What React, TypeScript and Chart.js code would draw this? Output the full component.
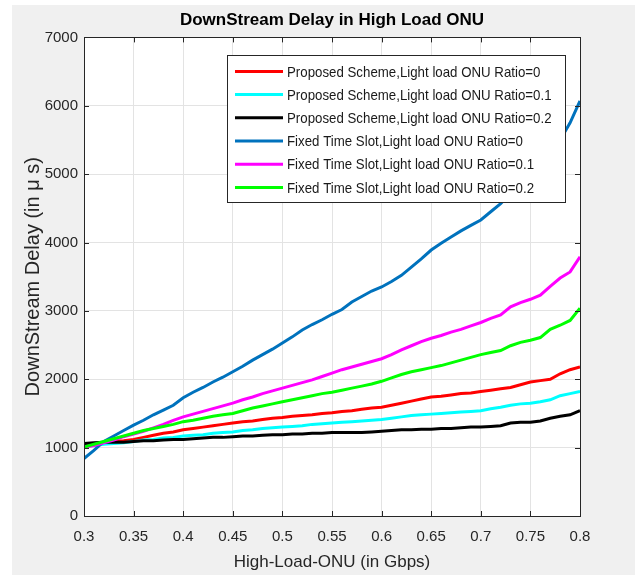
import React, { useEffect, useRef } from "react";
import { Chart, registerables } from "chart.js";

Chart.register(...registerables);

const FONT = "'Liberation Sans', Arial, Helvetica, sans-serif";

const titleText = "DownStream Delay in High Load ONU";
const xTitle = "High-Load-ONU (in Gbps)";
const yTitle = "DownStream Delay (in \u03bc s)";

const xTickValues = [0.3, 0.35, 0.4, 0.45, 0.5, 0.55, 0.6, 0.65, 0.7, 0.75, 0.8];
const yTickValues = [0, 1000, 2000, 3000, 4000, 5000, 6000, 7000];

const loads = [
  0.30, 0.31, 0.32, 0.33, 0.34, 0.35, 0.36, 0.37, 0.38, 0.39,
  0.40, 0.41, 0.42, 0.43, 0.44, 0.45, 0.46, 0.47, 0.48, 0.49,
  0.50, 0.51, 0.52, 0.53, 0.54, 0.55, 0.56, 0.57, 0.58, 0.59,
  0.60, 0.61, 0.62, 0.63, 0.64, 0.65, 0.66, 0.67, 0.68, 0.69,
  0.70, 0.71, 0.72, 0.73, 0.74, 0.75, 0.76, 0.77, 0.78, 0.79,
  0.80,
];

const proposedRatio0 = [
  1040, 1050, 1070, 1090, 1100, 1120, 1150, 1180, 1210, 1230,
  1260, 1280, 1300, 1320, 1340, 1360, 1380, 1390, 1410, 1430,
  1440, 1460, 1470, 1480, 1500, 1510, 1530, 1540, 1560, 1580,
  1590, 1620, 1650, 1680, 1710, 1740, 1750, 1770, 1790, 1800,
  1820, 1840, 1860, 1880, 1920, 1960, 1980, 2000, 2080, 2140,
  2180,
];

const proposedRatio01 = [
  1020, 1030, 1050, 1060, 1070, 1090, 1110, 1120, 1140, 1150,
  1170, 1180, 1190, 1210, 1220, 1230, 1250, 1260, 1280, 1290,
  1300, 1310, 1320, 1340, 1350, 1360, 1370, 1380, 1390, 1400,
  1410, 1430, 1450, 1470, 1480, 1490, 1500, 1510, 1520, 1530,
  1540, 1570, 1590, 1620, 1640, 1650, 1670, 1700, 1760, 1790,
  1820,
];

const proposedRatio02 = [
  1060, 1070, 1080, 1080, 1080, 1090, 1100, 1100, 1110, 1120,
  1120, 1130, 1140, 1150, 1150, 1160, 1170, 1170, 1180, 1190,
  1190, 1200, 1200, 1210, 1210, 1220, 1220, 1220, 1220, 1230,
  1240, 1250, 1260, 1260, 1270, 1270, 1280, 1280, 1290, 1300,
  1300, 1310, 1320, 1360, 1370, 1370, 1390, 1430, 1460, 1480,
  1540,
];

const fixedRatio0 = [
  840, 960, 1090, 1170, 1250, 1330, 1400, 1480, 1550, 1620,
  1730, 1810, 1880, 1960, 2030, 2110, 2190, 2280, 2360, 2440,
  2530, 2620, 2720, 2800, 2870, 2950, 3020, 3130, 3210, 3290,
  3350, 3430, 3520, 3640, 3760, 3890, 3990, 4080, 4170, 4250,
  4330, 4450, 4570, 4720, 4870, 5020, 5180, 5340, 5500, 5750,
  6070,
];

const fixedRatio01 = [
  1000, 1030, 1070, 1110, 1160, 1200, 1240, 1290, 1340, 1400,
  1450, 1490, 1530, 1570, 1610, 1650, 1700, 1740, 1790, 1830,
  1870, 1910, 1950, 1990, 2040, 2090, 2140, 2180, 2220, 2260,
  2300, 2360, 2430, 2490, 2550, 2600, 2640, 2690, 2730, 2780,
  2830, 2890, 2940, 3060, 3120, 3170, 3230, 3360, 3480, 3570,
  3790,
];

const fixedRatio02 = [
  1010, 1050, 1090, 1130, 1170, 1210, 1250, 1280, 1310, 1340,
  1380, 1400, 1430, 1460, 1480, 1500, 1540, 1580, 1610, 1640,
  1670, 1700, 1730, 1760, 1790, 1810, 1840, 1870, 1900, 1930,
  1970, 2020, 2070, 2110, 2140, 2170, 2200, 2240, 2280, 2320,
  2360, 2390, 2420, 2490, 2540, 2570, 2610, 2730, 2790, 2860,
  3040,
];

const seriesLabels = [
  "Proposed Scheme,Light load ONU Ratio=0",
  "Proposed Scheme,Light load ONU Ratio=0.1",
  "Proposed Scheme,Light load ONU Ratio=0.2",
  "Fixed Time Slot,Light load ONU Ratio=0",
  "Fixed Time Slot,Light load ONU Ratio=0.1",
  "Fixed Time Slot,Light load ONU Ratio=0.2",
];
const seriesValues = [
  proposedRatio0,
  proposedRatio01,
  proposedRatio02,
  fixedRatio0,
  fixedRatio01,
  fixedRatio02,
];
const seriesColors = ["#ff0000", "#00ffff", "#000000", "#0072bd", "#ff00ff", "#00ff00"];

const AXIS_COLOR = "#262626";

const backgroundPlugin = {
  id: "figureBackground",
  beforeDraw(chart: any) {
    const { ctx, width, height, chartArea } = chart;
    ctx.save();
    ctx.fillStyle = "#ffffff";
    ctx.fillRect(0, 0, width, height);
    ctx.fillStyle = "#f0f0f0";
    ctx.fillRect(12, 5, width - 12, height - 5);
    ctx.fillStyle = "#ffffff";
    ctx.fillRect(chartArea.left, chartArea.top, chartArea.right - chartArea.left, chartArea.bottom - chartArea.top);
    ctx.restore();
  },
};

const boxLegendPlugin = {
  id: "boxAndLegend",
  afterDatasetsDraw(chart: any) {
    const { ctx, chartArea, scales } = chart;
    const { left, right, top, bottom } = chartArea;
    ctx.save();
    // axes box
    ctx.strokeStyle = AXIS_COLOR;
    ctx.lineWidth = 1;
    ctx.strokeRect(Math.round(left) + 0.5, Math.round(top) + 0.5, Math.round(right - left), Math.round(bottom - top));
    // inner tick marks
    const tl = 5;
    ctx.beginPath();
    xTickValues.forEach((v) => {
      const x = Math.round(scales.x.getPixelForValue(v)) + 0.5;
      ctx.moveTo(x, bottom);
      ctx.lineTo(x, bottom - tl);
      ctx.moveTo(x, top);
      ctx.lineTo(x, top + tl);
    });
    yTickValues.forEach((v) => {
      const y = Math.round(scales.y.getPixelForValue(v)) + 0.5;
      ctx.moveTo(left, y);
      ctx.lineTo(left + tl, y);
      ctx.moveTo(right, y);
      ctx.lineTo(right - tl, y);
    });
    ctx.stroke();

    // legend box
    const bx = right - 353;
    const by = top + 18;
    const bw = 338;
    const rowH = 23.2;
    const bh = 147;
    ctx.fillStyle = "#ffffff";
    ctx.fillRect(bx, by, bw, bh);
    ctx.strokeStyle = AXIS_COLOR;
    ctx.strokeRect(Math.round(bx) + 0.5, Math.round(by) + 0.5, bw, bh);
    ctx.font = `15px ${FONT}`;
    ctx.textBaseline = "middle";
    ctx.textAlign = "left";
    chart.data.datasets.forEach((ds: any, i: number) => {
      const y = by + 16 + i * rowH;
      ctx.strokeStyle = ds.borderColor;
      ctx.lineWidth = 3;
      ctx.beginPath();
      ctx.moveTo(bx + 8, y);
      ctx.lineTo(bx + 56, y);
      ctx.stroke();
      ctx.fillStyle = "#1a1a1a";
      const w = ctx.measureText(ds.label).width;
      ctx.fillText(ds.label, bx + 60, y + 1, w * 0.885);
    });
    ctx.restore();
  },
};

export default function App() {
  const canvasRef = useRef<HTMLCanvasElement | null>(null);

  useEffect(() => {
    document.body.style.margin = "0";
    const canvas = canvasRef.current;
    if (!canvas) return;
    const datasets = seriesLabels.map((label, i) => ({
      label,
      data: loads.map((x, j) => ({ x, y: seriesValues[i][j] })),
      borderColor: seriesColors[i],
      backgroundColor: seriesColors[i],
      borderWidth: 3,
      pointRadius: 0,
      tension: 0,
      fill: false,
      order: seriesLabels.length - i,
    }));
    const chart = new Chart(canvas, {
      type: "line",
      data: { datasets },
      options: {
        responsive: false,
        animation: false,
        devicePixelRatio: 1,
        layout: { padding: { left: 0, right: 55, top: 0, bottom: 0 } },
        plugins: {
          legend: { display: false },
          tooltip: { enabled: false },
          title: {
            display: true,
            text: titleText,
            fullSize: false,
            color: "#000000",
            font: { family: FONT, size: 17, weight: "bold" },
            padding: { top: 10, bottom: 7 },
          },
        },
        scales: {
          x: {
            type: "linear",
            min: 0.3,
            max: 0.8,
            afterBuildTicks: (scale: any) => {
              scale.ticks = xTickValues.map((v) => ({ value: v }));
            },
            afterFit: (scale: any) => {
              scale.height = 59;
            },
            ticks: {
              color: AXIS_COLOR,
              font: { family: FONT, size: 15 },
              padding: 12,
              maxRotation: 0,
              autoSkip: false,
              callback: (v: any) => String(Number(Number(v).toFixed(2))),
            },
            grid: { color: "#e3e3e3", drawTicks: false, lineWidth: 1 },
            border: { display: false },
            title: {
              display: true,
              text: xTitle,
              color: AXIS_COLOR,
              font: { family: FONT, size: 17 },
              padding: { top: 0, bottom: 2 },
            },
          },
          y: {
            type: "linear",
            min: 0,
            max: 7000,
            afterBuildTicks: (scale: any) => {
              scale.ticks = yTickValues.map((v) => ({ value: v }));
            },
            afterFit: (scale: any) => {
              scale.width = 84;
            },
            ticks: {
              color: AXIS_COLOR,
              font: { family: FONT, size: 15 },
              padding: 6,
              autoSkip: false,
              callback: (v: any) => String(v),
            },
            grid: { color: "#e3e3e3", drawTicks: false, lineWidth: 1 },
            border: { display: false },
            title: {
              display: true,
              text: yTitle,
              color: AXIS_COLOR,
              font: { family: FONT, size: 20 },
              padding: { top: 21, bottom: 0 },
            },
          },
        },
      },
      plugins: [backgroundPlugin, boxLegendPlugin],
    } as any);
    return () => chart.destroy();
  }, []);

  return (
    <div style={{ width: 635, height: 575 }}>
      <canvas ref={canvasRef} width={635} height={575} style={{ display: "block" }} />
    </div>
  );
}
